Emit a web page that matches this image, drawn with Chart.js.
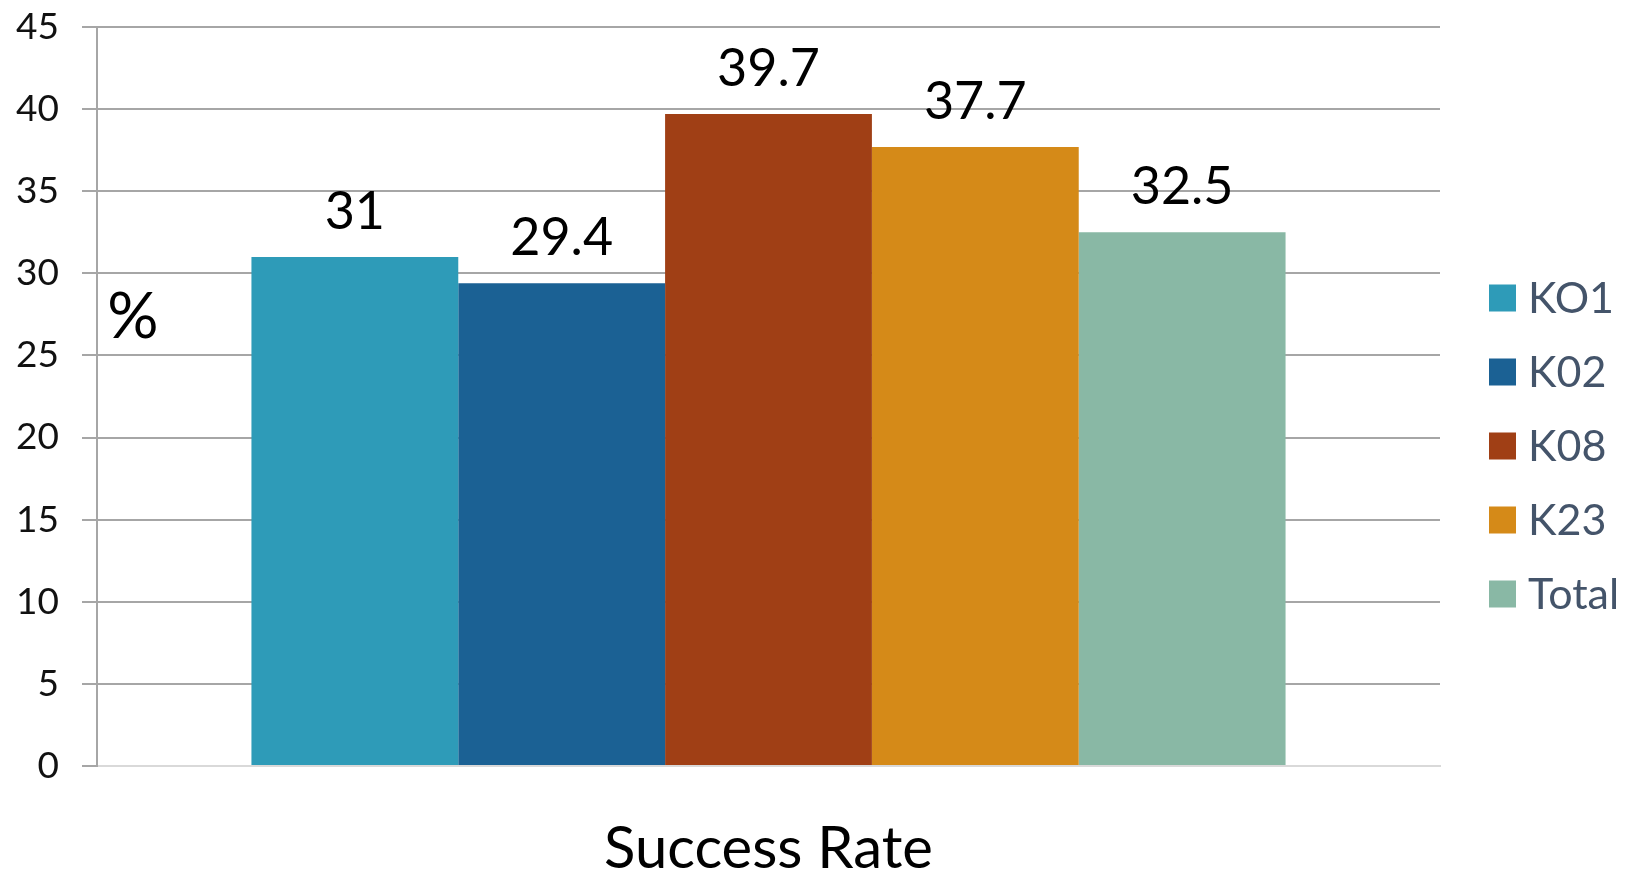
<!DOCTYPE html>
<html>
<head>
<meta charset="utf-8">
<script src="https://cdn.jsdelivr.net/npm/chart.js@4.4.1/dist/chart.umd.min.js"></script>
<style>
  html, body { margin: 0; padding: 0; background: #ffffff; }
  #wrap { width: 1640px; height: 875px; }
</style>
</head>
<body>
<div id="wrap"><canvas id="c" width="1640" height="875"></canvas></div>
<script>
const categories = ['Success Rate'];
const seriesNames = ['KO1', 'K02', 'K08', 'K23', 'Total'];
const seriesValues = [31, 29.4, 39.7, 37.7, 32.5];
const seriesColors = ['#2E9BB8', '#1B6194', '#A03F15', '#D58A18', '#89B8A5'];
const yTickLabels = ['0', '5', '10', '15', '20', '25', '30', '35', '40', '45'];
const yAxisLabel = '%';

const FONT = 'Lato, "Open Sans", sans-serif';

const datasets = seriesNames.map((name, i) => ({
  label: name,
  data: [seriesValues[i]],
  backgroundColor: seriesColors[i],
  borderWidth: 0,
  categoryPercentage: 0.77,
  barPercentage: 1.0
}));

const dataLabelPlugin = {
  id: 'dataLabels',
  afterDatasetsDraw(chart) {
    const ctx = chart.ctx;
    ctx.save();
    ctx.font = '52px ' + FONT;
    ctx.fillStyle = '#000000';
    ctx.textAlign = 'center';
    ctx.textBaseline = 'alphabetic';
    chart.data.datasets.forEach((ds, i) => {
      const meta = chart.getDatasetMeta(i);
      meta.data.forEach((bar, j) => {
        ctx.fillText(String(ds.data[j]), bar.x, bar.y - 28);
      });
    });
    ctx.restore();
  }
};

const sideTextPlugin = {
  id: 'sideText',
  afterDraw(chart) {
    const ctx = chart.ctx;
    const area = chart.chartArea;
    ctx.save();
    // axis unit label inside plot
    ctx.font = '64px ' + FONT;
    ctx.fillStyle = '#000000';
    ctx.textAlign = 'center';
    ctx.textBaseline = 'middle';
    ctx.fillText(yAxisLabel, area.left + 36, area.top + 290);
    // legend
    const lx = area.right + 49;
    const ly0 = area.top + 271;
    const step = 74;
    ctx.font = '43px ' + FONT;
    ctx.textAlign = 'left';
    ctx.textBaseline = 'middle';
    chart.data.datasets.forEach((ds, i) => {
      const cy = ly0 + i * step;
      ctx.fillStyle = ds.backgroundColor;
      ctx.fillRect(lx, cy - 13.5, 27, 27);
      ctx.fillStyle = '#44546A';
      ctx.fillText(ds.label, lx + 39, cy + 1);
    });
    ctx.restore();
  }
};

new Chart(document.getElementById('c'), {
  type: 'bar',
  data: { labels: categories, datasets: datasets },
  options: {
    responsive: false,
    devicePixelRatio: 1,
    animation: false,
    layout: { padding: { top: 27, right: 200, left: 0, bottom: 0 } },
    plugins: {
      legend: { display: false },
      tooltip: { enabled: false }
    },
    scales: {
      x: {
        grid: { display: false, drawTicks: false },
        border: { display: true, color: '#D9D9D9', width: 2 },
        ticks: {
          font: { family: FONT, size: 58 },
          color: '#000000',
          padding: 48
        },
        afterFit(scale) { scale.height = 109; }
      },
      y: {
        min: 0,
        max: 45,
        afterBuildTicks(scale) {
          scale.ticks = yTickLabels.map(v => ({ value: Number(v) }));
        },
        ticks: {
          font: { family: FONT, size: 37 },
          color: '#111111',
          padding: 23,
          callback: (v) => yTickLabels.includes(String(v)) ? String(v) : ''
        },
        grid: { color: '#A6A6A6', lineWidth: 2, tickLength: 15, drawTicks: true },
        border: { display: true, color: '#A6A6A6', width: 2 },
        afterFit(scale) {
          scale.width = 97;
          scale.paddingTop = 0;
          scale.paddingBottom = 0;
        }
      }
    }
  },
  plugins: [dataLabelPlugin, sideTextPlugin]
});
</script>
</body>
</html>
